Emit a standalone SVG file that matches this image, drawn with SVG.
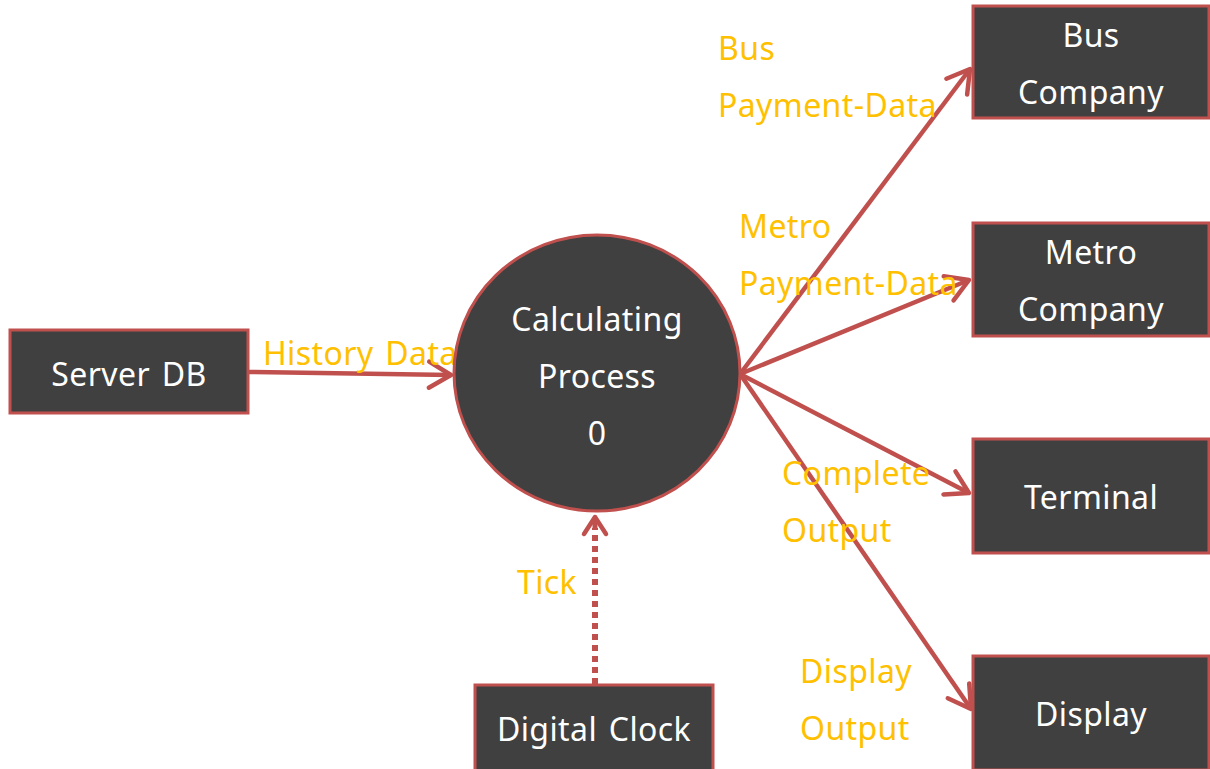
<svg xmlns="http://www.w3.org/2000/svg" width="1210" height="769" viewBox="0 0 1210 769">
<defs>
<style>
.box{fill:#404040;stroke:#C0504D;stroke-width:3}
.nt{font-family:"Noto Sans","Open Sans",sans-serif;font-size:32px;letter-spacing:0.4px;word-spacing:3px;fill:#FFFFFF;text-anchor:middle}
.lb{font-family:"Noto Sans","Open Sans",sans-serif;font-size:32px;letter-spacing:0.4px;word-spacing:3px;fill:#FFC000}
.con{stroke:#C0504D;stroke-width:4.5;fill:none}
.dot{stroke:#C0504D;stroke-width:6;fill:none;stroke-dasharray:6 5}
</style>
<marker id="ah" markerWidth="12" markerHeight="12" refX="9" refY="6" orient="auto" markerUnits="userSpaceOnUse" viewBox="0 0 12 12" overflow="visible">
<path d="M-13,-7 L9,6 L-13,19" fill="none" stroke="#C0504D" stroke-width="4.5" stroke-linecap="round" stroke-linejoin="round"/>
</marker>
</defs>
<rect width="1210" height="769" fill="#FFFFFF"/>
<g id="connectors">
<line class="con" x1="249" y1="372" x2="451" y2="375" marker-end="url(#ah)"/>
<line class="con" x1="740" y1="374" x2="970" y2="69" marker-end="url(#ah)"/>
<line class="con" x1="740" y1="374" x2="969" y2="280" marker-end="url(#ah)"/>
<line class="con" x1="740" y1="374" x2="969" y2="493" marker-end="url(#ah)"/>
<line class="con" x1="740" y1="374" x2="971" y2="709" marker-end="url(#ah)"/>
<line class="dot" x1="595" y1="684" x2="595" y2="528"/>
<path d="M584,534 L595,517 L606,534" fill="none" stroke="#C0504D" stroke-width="4.5" stroke-linecap="round" stroke-linejoin="round"/>
<line x1="595" y1="530" x2="595" y2="518" stroke="#C0504D" stroke-width="5"/>
</g>
<g id="labels">
<text class="lb" x="263" y="365">History Data</text>
<text class="lb" x="718" y="60">Bus</text>
<text class="lb" x="718" y="117">Payment-Data</text>
<text class="lb" x="739" y="238">Metro</text>
<text class="lb" x="739" y="295">Payment-Data</text>
<text class="lb" x="782" y="485">Complete</text>
<text class="lb" x="782" y="542">Output</text>
<text class="lb" x="800" y="683">Display</text>
<text class="lb" x="800" y="740">Output</text>
<text class="lb" x="517" y="594">Tick</text>
</g>
<g id="server-db">
<rect class="box" x="10" y="330" width="238" height="83"/>
<text class="nt" x="129" y="386">Server DB</text>
</g>
<g id="calculating-process">
<ellipse class="box" cx="597" cy="373" rx="143" ry="138"/>
<text class="nt" x="597" y="331">Calculating</text>
<text class="nt" x="597" y="388">Process</text>
<text class="nt" x="597" y="445">0</text>
</g>
<g id="bus-company">
<rect class="box" x="973" y="6" width="236" height="112"/>
<text class="nt" x="1091" y="47">Bus</text>
<text class="nt" x="1091" y="104">Company</text>
</g>
<g id="metro-company">
<rect class="box" x="973" y="223" width="236" height="113"/>
<text class="nt" x="1091" y="264">Metro</text>
<text class="nt" x="1091" y="321">Company</text>
</g>
<g id="terminal">
<rect class="box" x="973" y="439" width="236" height="114"/>
<text class="nt" x="1091" y="509">Terminal</text>
</g>
<g id="display">
<rect class="box" x="973" y="656" width="236" height="114"/>
<text class="nt" x="1091" y="726">Display</text>
</g>
<g id="digital-clock">
<rect class="box" x="475" y="685" width="238" height="90"/>
<text class="nt" x="594" y="741">Digital Clock</text>
</g>
</svg>
